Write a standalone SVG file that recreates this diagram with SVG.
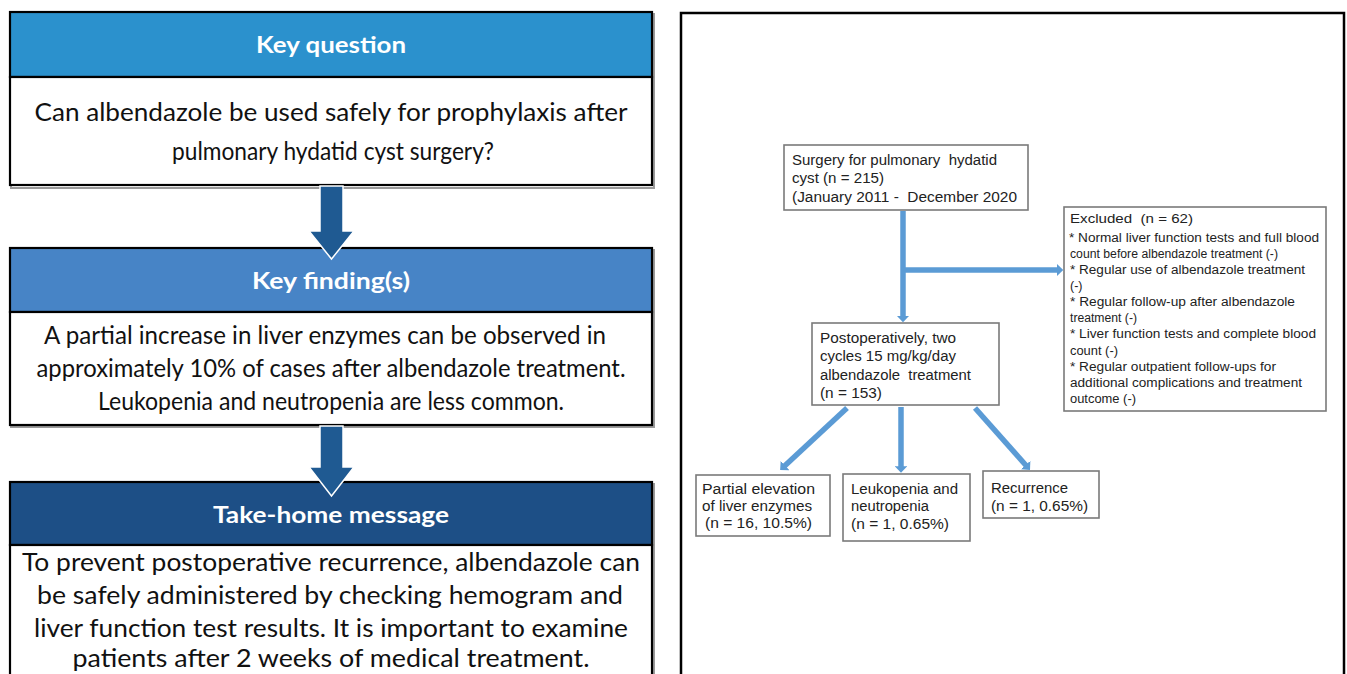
<svg xmlns="http://www.w3.org/2000/svg" width="1347" height="674" viewBox="0 0 1347 674">
<style>
.frame{fill:#fff;stroke:#000;stroke-width:2.2}
.hdr{stroke:#000;stroke-width:2.2}
.shadow{fill:none;stroke:#9a9a9a;stroke-width:2}
.ht{font-family:Lato,"Open Sans",sans-serif;font-weight:bold;font-size:23px;fill:#fff;text-anchor:middle}
.bt{font-family:Lato,"Open Sans",sans-serif;font-size:25px;fill:#111;text-anchor:middle}
.box{fill:#fff;stroke:#7a7a7a;stroke-width:1.6}
.ft{font-family:"Liberation Sans",Arial,sans-serif;font-size:14px;fill:#222}
.et{font-family:"Liberation Sans",Arial,sans-serif;font-size:12.5px;fill:#222}
.con{stroke:#5B9BD5;stroke-width:5.5;fill:none}
.barr{fill:#1F5A92;stroke:#fff;stroke-width:1.5}
</style>
<defs>
<marker id="ah" viewBox="0 0 10 10" refX="2" refY="5" markerWidth="1.2" markerHeight="2.3" orient="auto" markerUnits="strokeWidth" preserveAspectRatio="none">
<path d="M0,0 L10,5 L0,10 z" fill="#5B9BD5"/>
</marker>
</defs>
<rect width="1347" height="674" fill="#fff"/>

<!-- Left panel -->
<g id="key-question">
<rect class="shadow" x="11" y="14" width="643" height="174"/>
<rect class="hdr" x="10" y="12" width="642" height="65" fill="#2B91CD"/>
<rect class="frame" x="10" y="77" width="642" height="108"/>
<text class="ht" x="331" y="53" textLength="150" lengthAdjust="spacingAndGlyphs">Key question</text>
<text class="bt" x="331" y="121" textLength="593" lengthAdjust="spacingAndGlyphs">Can albendazole be used safely for prophylaxis after</text>
<text class="bt" x="333" y="160" textLength="322" lengthAdjust="spacingAndGlyphs">pulmonary hydatid cyst surgery?</text>
</g>

<g id="key-findings">
<rect class="shadow" x="11" y="250" width="643" height="177"/>
<rect class="hdr" x="10" y="248" width="642" height="64" fill="#4784C6"/>
<rect class="frame" x="10" y="312" width="642" height="113"/>
<text class="ht" x="331" y="289" textLength="158" lengthAdjust="spacingAndGlyphs">Key finding(s)</text>
<text class="bt" x="325" y="344" textLength="562" lengthAdjust="spacingAndGlyphs">A partial increase in liver enzymes can be observed in</text>
<text class="bt" x="331" y="377" textLength="589" lengthAdjust="spacingAndGlyphs">approximately 10% of cases after albendazole treatment.</text>
<text class="bt" x="331" y="410" textLength="466" lengthAdjust="spacingAndGlyphs">Leukopenia and neutropenia are less common.</text>
</g>

<g id="take-home">
<rect class="shadow" x="11" y="484" width="643" height="200"/>
<rect class="hdr" x="10" y="482" width="642" height="63" fill="#1D4F86"/>
<rect class="frame" x="10" y="545" width="642" height="140"/>
<text class="ht" x="331" y="523" textLength="236" lengthAdjust="spacingAndGlyphs">Take-home message</text>
<text class="bt" x="331" y="571" textLength="618" lengthAdjust="spacingAndGlyphs">To prevent postoperative recurrence, albendazole can</text>
<text class="bt" x="330" y="604" textLength="586" lengthAdjust="spacingAndGlyphs">be safely administered by checking hemogram and</text>
<text class="bt" x="331" y="637" textLength="594" lengthAdjust="spacingAndGlyphs">liver function test results. It is important to examine</text>
<text class="bt" x="331" y="667" textLength="517" lengthAdjust="spacingAndGlyphs">patients after 2 weeks of medical treatment.</text>
</g>

<g id="left-arrows">
<path class="barr" d="M320,186 L343,186 L343,231 L354,231 L331.5,259 L309,231 L320,231 Z"/>
<path class="barr" d="M320,426 L343,426 L343,467 L354,467 L331.5,496 L309,467 L320,467 Z"/>
</g>

<!-- Right panel -->
<g id="right-frame">
<rect x="681" y="13" width="663" height="680" fill="#fff" stroke="#000" stroke-width="2.5"/>
</g>

<g id="connectors">
<line class="con" x1="903" y1="211" x2="903" y2="317" marker-end="url(#ah)"/>
<line class="con" x1="903" y1="270" x2="1058" y2="270" marker-end="url(#ah)"/>
<line class="con" x1="847" y1="408" x2="784" y2="466.4" marker-end="url(#ah)"/>
<line class="con" x1="901" y1="407" x2="901" y2="467.5" marker-end="url(#ah)"/>
<line class="con" x1="975" y1="408" x2="1026.5" y2="466" marker-end="url(#ah)"/>
</g>

<g id="surgery">
<rect class="box" x="784" y="145" width="244" height="65"/>
<text class="ft" x="792" y="165" textLength="205" lengthAdjust="spacingAndGlyphs" xml:space="preserve">Surgery for pulmonary  hydatid</text>
<text class="ft" x="792" y="183" textLength="92" lengthAdjust="spacingAndGlyphs">cyst (n = 215)</text>
<text class="ft" x="792" y="202" textLength="225" lengthAdjust="spacingAndGlyphs" xml:space="preserve">(January 2011 -  December 2020</text>
</g>

<g id="excluded">
<rect class="box" x="1064" y="207" width="262" height="204"/>
<text class="et" x="1070" y="223" textLength="123" lengthAdjust="spacingAndGlyphs" xml:space="preserve">Excluded  (n = 62)</text>
<text class="et" x="1069" y="242" textLength="250" lengthAdjust="spacingAndGlyphs">* Normal liver function tests and full blood</text>
<text class="et" x="1070" y="258" textLength="208" lengthAdjust="spacingAndGlyphs">count before albendazole treatment (-)</text>
<text class="et" x="1070" y="274" textLength="235" lengthAdjust="spacingAndGlyphs">* Regular use of albendazole treatment</text>
<text class="et" x="1070" y="290">(-)</text>
<text class="et" x="1070" y="306" textLength="225" lengthAdjust="spacingAndGlyphs">* Regular follow-up after albendazole</text>
<text class="et" x="1070" y="322" textLength="67" lengthAdjust="spacingAndGlyphs">treatment (-)</text>
<text class="et" x="1070" y="338" textLength="246" lengthAdjust="spacingAndGlyphs">* Liver function tests and complete blood</text>
<text class="et" x="1070" y="355" textLength="48" lengthAdjust="spacingAndGlyphs">count (-)</text>
<text class="et" x="1070" y="371" textLength="206" lengthAdjust="spacingAndGlyphs">* Regular outpatient follow-ups for</text>
<text class="et" x="1070" y="387" textLength="232" lengthAdjust="spacingAndGlyphs">additional complications and treatment</text>
<text class="et" x="1070" y="403" textLength="66" lengthAdjust="spacingAndGlyphs">outcome (-)</text>
</g>

<g id="postop">
<rect class="box" x="812" y="323" width="187" height="82"/>
<text class="ft" x="820" y="343" textLength="136" lengthAdjust="spacingAndGlyphs">Postoperatively, two</text>
<text class="ft" x="820" y="361" textLength="136" lengthAdjust="spacingAndGlyphs">cycles 15 mg/kg/day</text>
<text class="ft" x="820" y="380" textLength="151" lengthAdjust="spacingAndGlyphs" xml:space="preserve">albendazole  treatment</text>
<text class="ft" x="820" y="398" textLength="62" lengthAdjust="spacingAndGlyphs">(n = 153)</text>
</g>

<g id="liver">
<rect class="box" x="696" y="475" width="134" height="61"/>
<text class="ft" x="702" y="494" textLength="113" lengthAdjust="spacingAndGlyphs">Partial elevation</text>
<text class="ft" x="702" y="511" textLength="110" lengthAdjust="spacingAndGlyphs">of liver enzymes</text>
<text class="ft" x="705" y="528" textLength="107" lengthAdjust="spacingAndGlyphs">(n = 16, 10.5%)</text>
</g>

<g id="leukopenia">
<rect class="box" x="843" y="474" width="127" height="67"/>
<text class="ft" x="851" y="494" textLength="107" lengthAdjust="spacingAndGlyphs">Leukopenia and</text>
<text class="ft" x="851" y="511" textLength="78" lengthAdjust="spacingAndGlyphs">neutropenia</text>
<text class="ft" x="851" y="529" textLength="98" lengthAdjust="spacingAndGlyphs">(n = 1, 0.65%)</text>
</g>

<g id="recurrence">
<rect class="box" x="983" y="471" width="116" height="47"/>
<text class="ft" x="991" y="493" textLength="77" lengthAdjust="spacingAndGlyphs">Recurrence</text>
<text class="ft" x="991" y="511" textLength="97" lengthAdjust="spacingAndGlyphs">(n = 1, 0.65%)</text>
</g>
</svg>
